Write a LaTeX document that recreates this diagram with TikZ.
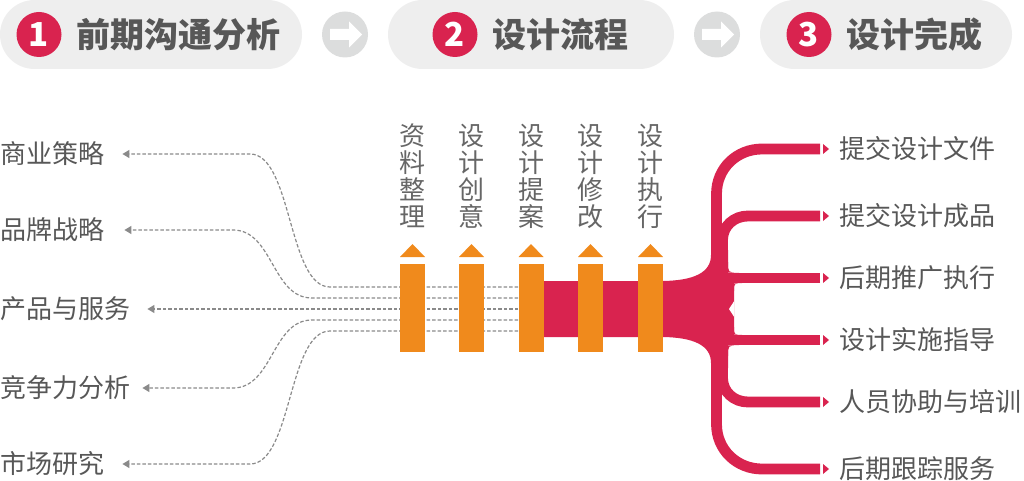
\documentclass[tikz,border=0pt]{standalone}
\usepackage{fontspec}
\setmainfont{Noto Sans CJK SC}
\usetikzlibrary{arrows.meta}

\definecolor{hong}{HTML}{D9234F}
\definecolor{cheng}{HTML}{F08A1C}
\definecolor{pill}{HTML}{EEEEEE}
\definecolor{quan}{HTML}{DCDDDD}
\definecolor{zi}{HTML}{575757}
\definecolor{zi2}{HTML}{666666}
\definecolor{xu}{HTML}{8A8A8A}

\tikzset{
  xuxian/.style={draw=xu, line width=1.2pt, dash pattern=on 3.5pt off 2pt, -{Triangle[length=7pt,width=8pt]}},
  zhi/.style={draw=hong, line width=10.8pt},
  biaoqian/.style={text=zi, inner sep=0pt, font=\fontsize{26}{27}\selectfont},
  buzhou/.style={text=zi, inner sep=0pt, font=\fontsize{34}{34}\selectfont\bfseries},
  shuzi/.style={circle, fill=hong, minimum size=45pt, inner sep=0pt, text=white, font=\fontsize{33}{33}\selectfont\bfseries},
  jiantou/.style={circle, fill=quan, minimum size=46pt, inner sep=0pt},
  zhu/.style={fill=cheng, minimum width=25pt, minimum height=88pt, inner sep=0pt},
}

\begin{document}
\begin{tikzpicture}[x=1pt, y=-1pt]
\useasboundingbox (0,0) rectangle (1024,481);

% top steps
\foreach \a/\b/\c/\n/\t in {0/302/39/1/前期沟通分析, 388/674/455/2/设计流程, 760/1012/809/3/设计完成}
{
    \fill[pill, rounded corners=34.5pt] (\a,0) rectangle (\b,69);
    \node[shuzi] (num\n) at (\c,34.5) {\n};
    \node[buzhou, anchor=west] (step\n) at (\c+37,34.5) {\t};
}
\foreach \x [count=\i] in {345,717}
{
    \node[jiantou] (jt\i) at (\x,34.5) {};
    \fill[white] (\x-15,29) -- (\x+4,29) -- (\x+4,21.5) -- (\x+17,34.5) -- (\x+4,47.5) -- (\x+4,40) -- (\x-15,40) -- cycle;
}

% left labels
\node[biaoqian, anchor=west] (l1) at (0,154) {商业策略};
\node[biaoqian, anchor=west] (l2) at (0,230) {品牌战略};
\node[biaoqian, anchor=west] (l3) at (0,309) {产品与服务};
\node[biaoqian, anchor=west] (l4) at (0,388) {竞争力分析};
\node[biaoqian, anchor=west] (l5) at (0,464) {市场研究};

\draw[xuxian] (518,287) -- (330,287) .. controls (288,287) and (292,154) .. (250,154) -- ([xshift=18pt]l1.east);
\draw[xuxian] (518,298) -- (312,298) .. controls (272,298) and (273,230) .. (233,230) -- ([xshift=20pt]l2.east);
\draw[xuxian] (518,309) -- ([xshift=17pt]l3.east);
\draw[xuxian] (518,320) -- (312,320) .. controls (272,320) and (273,388) .. (233,388) -- ([xshift=12pt]l4.east);
\draw[xuxian] (518,331) -- (330,331) .. controls (288,331) and (292,464) .. (250,464) -- ([xshift=18pt]l5.east);

% right labels
\foreach \y/\t [count=\i] in {149/提交设计文件, 216/提交设计成品, 278/后期推广执行, 340/设计实施指导, 402/人员协助与培训, 469/后期跟踪服务}
{
    \node[biaoqian, anchor=west] (r\i) at (839,\y) {\t};
    \fill[hong] ([xshift=-16pt,yshift=5pt]r\i.west) -- ([xshift=-10pt]r\i.west) -- ([xshift=-16pt,yshift=-5pt]r\i.west) -- cycle;
}

% red trunk
\fill[hong] (530,281) -- (660,281) .. controls (695,281) and (711,272) .. (711,255) -- (711,250) -- (728,250) -- (728,278) -- (734,278) -- (734,340) -- (728,340) -- (728,368) -- (711,368) -- (711,363) .. controls (711,346) and (695,337) .. (660,337) -- (530,337) -- cycle;
\draw[zhi] ([xshift=-19pt]r1.west) -- (762,149) .. controls (737,149) and (716.5,168) .. (716.5,194) -- (716.5,260);
\draw[zhi] ([xshift=-19pt]r2.west) -- (748,216) .. controls (734,216) and (722.5,226) .. (722.5,240) -- (722.5,262);
\draw[zhi] ([xshift=-19pt]r3.west) -- (725,278);
\draw[zhi] ([xshift=-19pt]r4.west) -- (725,340);
\draw[zhi] ([xshift=-19pt]r5.west) -- (748,402) .. controls (734,402) and (722.5,392) .. (722.5,378) -- (722.5,356);
\draw[zhi] ([xshift=-19pt]r6.west) -- (762,469) .. controls (737,469) and (716.5,450) .. (716.5,424) -- (716.5,358);
\fill[hong] (728,262) .. controls (728,272.6) .. (739,272.6) -- (728,272.6) -- cycle;
\fill[hong] (728,356) .. controls (728,345.4) .. (739,345.4) -- (728,345.4) -- cycle;
\fill[hong] (734,283.4) -- (742,283.4) .. controls (734,283.4) .. (734,291) -- cycle;
\fill[hong] (734,334.6) -- (742,334.6) .. controls (734,334.6) .. (734,327) -- cycle;
\fill[white] (734.2,301) -- (729,309) -- (734.2,317) -- cycle;

% orange bars
\foreach \x/\t [count=\i] in {412.5/资\\料\\整\\理, 471.5/设\\计\\创\\意, 531/设\\计\\提\\案, 590.5/设\\计\\修\\改, 650.5/设\\计\\执\\行}
{
    \node[zhu] (b\i) at (\x,308) {};
    \fill[cheng] (\x-12.5,257) -- (\x,244) -- (\x+12.5,257) -- cycle;
    \node[biaoqian, text=zi2, align=center] (t\i) at (\x,176) {\t};
}

\end{tikzpicture}
\end{document}
